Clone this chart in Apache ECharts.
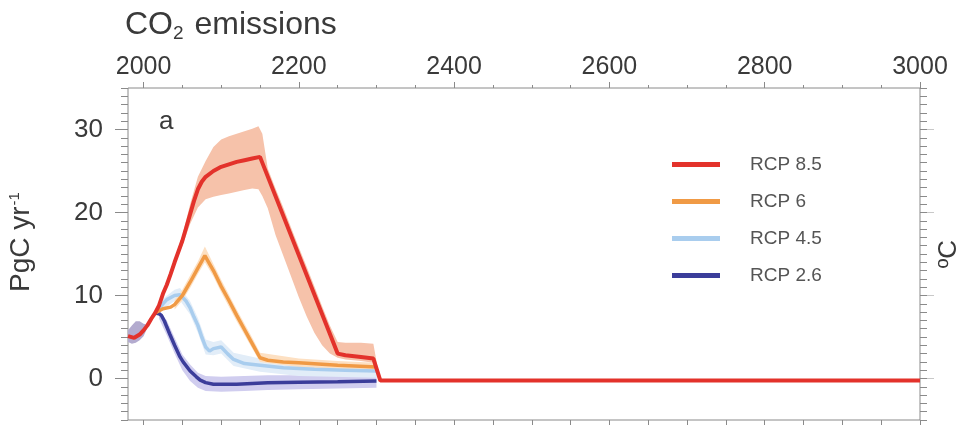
<!DOCTYPE html>
<html>
<head>
<meta charset="utf-8">
<script src="https://cdn.jsdelivr.net/npm/echarts@6/dist/echarts.min.js"></script>
<style>html,body{margin:0;padding:0;background:#fff}#c{width:961px;height:425px}</style>
</head>
<body>
<div id="c"></div>
<script>
// ---- Data ----
const xTickLabels = [2000, 2200, 2400, 2600, 2800, 3000];
const yTickLabels = [0, 10, 20, 30];
const seriesNames = ['RCP 8.5', 'RCP 6', 'RCP 4.5', 'RCP 2.6'];

// RCP 8.5 central line (PgC/yr)
const years85 = [1980, 1988, 1995, 2000, 2005, 2010, 2015, 2020, 2025, 2030, 2035, 2040, 2045, 2050, 2055, 2060, 2065, 2070, 2075, 2080, 2090, 2100, 2110, 2120, 2130, 2140, 2150, 2250, 2260, 2280, 2296, 2305, 3000];
const vals85  = [5.1, 4.9, 5.3, 5.8, 6.4, 7.2, 7.9, 8.8, 10.2, 11.3, 12.6, 14.0, 15.3, 16.6, 18.2, 19.8, 21.4, 22.8, 23.7, 24.3, 25.0, 25.5, 25.8, 26.1, 26.3, 26.5, 26.7, 3.0, 2.8, 2.6, 2.4, -0.25, -0.25];
// RCP 8.5 spread
const band85Years = [2040, 2050, 2060, 2070, 2080, 2090, 2100, 2110, 2120, 2130, 2140, 2148, 2153, 2160, 2170, 2180, 2190, 2200, 2210, 2220, 2230, 2240, 2250, 2260, 2280, 2296, 2303];
const band85Low   = [13.6, 16.0, 18.6, 20.6, 21.6, 21.9, 22.1, 22.3, 22.5, 22.7, 22.9, 22.8, 22.0, 20.5, 17.3, 14.8, 12.3, 9.8, 7.5, 5.5, 4.0, 3.0, 2.5, 2.3, 2.1, 1.9, -0.3];
const band85High  = [14.4, 17.2, 21.0, 24.3, 26.2, 27.9, 28.8, 29.2, 29.5, 29.8, 30.1, 30.4, 29.5, 25.3, 22.9, 20.6, 18.2, 15.8, 13.5, 11.1, 8.7, 6.4, 4.4, 4.3, 4.3, 4.2, 0.5];

// RCP 6
const years6 = [2015, 2025, 2035, 2040, 2050, 2060, 2070, 2079, 2090, 2100, 2110, 2120, 2130, 2140, 2150, 2160, 2180, 2200, 2250, 2300];
const vals6  = [7.9, 8.4, 8.6, 8.9, 10.0, 11.6, 13.3, 14.8, 13.0, 11.1, 9.4, 7.6, 5.9, 4.2, 2.5, 2.2, 2.0, 1.9, 1.6, 1.4];
const band6Years = [2040, 2050, 2060, 2070, 2079, 2090, 2100, 2120, 2140, 2150, 2200, 2250, 2300];
const band6Low   = [8.3, 9.4, 10.9, 12.6, 14.0, 12.3, 10.4, 6.9, 3.6, 2.0, 1.4, 1.1, 0.9];
const band6High  = [9.5, 10.7, 12.4, 14.1, 15.9, 13.8, 11.9, 8.3, 4.9, 3.1, 2.4, 2.1, 1.9];

// RCP 4.5
const years45 = [2015, 2025, 2030, 2040, 2047, 2055, 2060, 2065, 2070, 2075, 2080, 2085, 2090, 2100, 2108, 2116, 2130, 2150, 2180, 2220, 2260, 2300];
const vals45  = [7.9, 9.0, 9.5, 10.0, 10.1, 9.3, 8.5, 7.4, 6.4, 5.0, 3.8, 3.3, 3.6, 3.8, 3.0, 2.3, 1.8, 1.6, 1.3, 1.1, 1.0, 0.9];
const band45Years = [2025, 2040, 2047, 2060, 2070, 2080, 2090, 2100, 2116, 2150, 2200, 2300];
const band45Low   = [8.4, 9.3, 9.4, 7.7, 5.5, 2.9, 2.8, 3.0, 1.5, 0.8, 0.3, 0.1];
const band45High  = [9.6, 10.7, 10.9, 9.3, 7.3, 4.7, 4.4, 4.6, 3.1, 2.4, 2.1, 1.8];

// RCP 2.6
const years26 = [2015, 2020, 2023, 2027, 2030, 2034, 2040, 2047, 2051, 2060, 2068, 2073, 2080, 2090, 2120, 2160, 2200, 2250, 2300];
const vals26  = [7.9, 7.8, 7.6, 6.9, 6.2, 5.3, 4.0, 2.6, 2.0, 0.9, 0.2, -0.2, -0.5, -0.7, -0.7, -0.5, -0.45, -0.4, -0.3];
const band26HistYears = [1980, 1985, 1990, 1995, 2000, 2004];
const band26HistLow   = [4.4, 4.2, 4.3, 4.6, 5.1, 5.9];
const band26HistHigh  = [5.8, 6.4, 6.9, 6.9, 6.6, 6.5];
const band26Years = [2020, 2030, 2040, 2050, 2060, 2070, 2080, 2100, 2130, 2160, 2200, 2250, 2300];
const band26Low   = [7.2, 5.2, 3.0, 1.0, -0.3, -1.1, -1.5, -1.6, -1.5, -1.4, -1.3, -1.2, -1.1];
const band26High  = [8.2, 7.0, 4.9, 2.9, 1.7, 0.7, 0.3, 0.2, 0.3, 0.4, 0.4, 0.5, 0.5];

// ---- Styling ----
const colors = {'RCP 8.5': '#e3322b', 'RCP 6': '#f09a45', 'RCP 4.5': '#a9cdee', 'RCP 2.6': '#3b3d9a'};
const bandColors = {'RCP 8.5': '#f6c2aa', 'RCP 6': '#fde0c2', 'RCP 4.5': '#e2edf8', 'RCP 2.6': '#d0cdef', 'hist': '#b3abcf'};
const axisGray = '#8a8a8a';
const textGray = '#3a3a3a';
const FONT = 'Liberation Sans, Arial, sans-serif';

function zip(xs, ys) { return xs.map((x, i) => [x, ys[i]]); }

// spread band drawn as polygon through the axes' own scales
function bandSeries(key, yrs, lo, hi) {
  const rows = yrs.map((x, i) => [x, lo[i], hi[i]]);
  return {
    name: key + ' spread', type: 'custom', z: 1, silent: true, clip: true,
    encode: { x: 0, y: [1, 2] },
    data: rows,
    renderItem: function (params, api) {
      if (params.dataIndex !== 0) return null;
      const pts = [];
      for (let i = 0; i < rows.length; i++) pts.push(api.coord([rows[i][0], rows[i][2]]));
      for (let i = rows.length - 1; i >= 0; i--) pts.push(api.coord([rows[i][0], rows[i][1]]));
      return { type: 'polygon', shape: { points: pts }, style: { fill: bandColors[key], stroke: null } };
    }
  };
}
function lineSeries(key, yrs, vals, z, w) {
  return { name: key, type: 'line', data: zip(yrs, vals), symbol: 'none', color: colors[key],
    itemStyle: { color: colors[key] }, lineStyle: { color: colors[key], width: w }, z: z, animation: false };
}

const minorX = [];
for (let y = 2000; y <= 3000; y += 50) minorX.push(y);
const minorY = [];
for (let v = -5; v <= 35; v += 1) minorY.push(v);

const XMIN = 1980, XMAX = 3000, YMIN = -5, YMAX = 35;
const noZero = { show: false, onZero: false };

const chart = echarts.init(document.getElementById('c'), null, { renderer: 'canvas' });
chart.setOption({
  animation: false,
  backgroundColor: '#fff',
  textStyle: { fontFamily: FONT },
  title: [
    { text: 'CO{sub|2} emissions', left: 120, top: 3,
      textStyle: { fontSize: 32, fontWeight: 'normal', color: textGray, fontFamily: FONT,
        rich: { sub: { fontSize: 19, color: textGray, fontFamily: FONT, padding: [16, 2, 0, 0] } } } },
    { text: 'a', left: 154, top: 104, textStyle: { fontSize: 26, fontWeight: 'normal', color: textGray, fontFamily: FONT } }
  ],
  grid: { left: 128, right: 41, top: 88, bottom: 5, show: true, borderColor: axisGray, borderWidth: 1,
          backgroundColor: 'transparent', containLabel: false, outerBoundsMode: 'none' },
  legend: {
    data: seriesNames, orient: 'vertical', left: 672, top: 155, padding: 0, itemGap: 18,
    itemWidth: 48, itemHeight: 5, icon: 'rect',
    textStyle: { fontSize: 19, color: '#555', fontFamily: FONT, padding: [0, 0, 0, 25] },
    selectedMode: false
  },
  xAxis: [
    { type: 'value', position: 'top', min: XMIN, max: XMAX, splitLine: { show: false }, axisLine: noZero,
      axisTick: { show: true, inside: false, length: 6, customValues: xTickLabels, lineStyle: { color: axisGray } },
      axisLabel: { show: true, customValues: xTickLabels, formatter: v => String(v), margin: 8, fontSize: 25, color: textGray, fontFamily: FONT } },
    { type: 'value', position: 'top', min: XMIN, max: XMAX, splitLine: { show: false }, axisLine: noZero,
      axisTick: { show: true, inside: false, length: 3, customValues: minorX, lineStyle: { color: axisGray } },
      axisLabel: { show: false } },
    { type: 'value', position: 'bottom', min: XMIN, max: XMAX, splitLine: { show: false }, axisLine: noZero,
      axisTick: { show: true, inside: false, length: 5, customValues: minorX, lineStyle: { color: axisGray } },
      axisLabel: { show: false } }
  ],
  yAxis: [
    { type: 'value', position: 'left', min: YMIN, max: YMAX, splitLine: { show: false }, axisLine: noZero,
      axisTick: { show: true, inside: false, length: 13, customValues: yTickLabels, lineStyle: { color: axisGray } },
      axisLabel: { show: true, customValues: yTickLabels, margin: 25, fontSize: 26, color: textGray, fontFamily: FONT },
      name: 'PgC yr{sup|-1}', nameLocation: 'middle', nameRotate: 90, nameGap: 92,
      nameTextStyle: { fontSize: 28, color: textGray, fontFamily: FONT, padding: [0, 0, 0, 24],
        rich: { sup: { fontSize: 15, color: textGray, fontFamily: FONT, padding: [0, 0, 14, 1] } } } },
    { type: 'value', position: 'left', min: YMIN, max: YMAX, splitLine: { show: false }, axisLine: noZero,
      axisTick: { show: true, inside: false, length: 7, customValues: minorY, lineStyle: { color: axisGray } },
      axisLabel: { show: false } },
    { type: 'value', position: 'right', min: YMIN, max: YMAX, splitLine: { show: false }, axisLine: noZero,
      axisTick: { show: true, inside: false, length: 14, customValues: yTickLabels, lineStyle: { color: '#c8c8c8' } },
      axisLabel: { show: false },
      name: 'ºC', nameLocation: 'middle', nameRotate: 90, nameGap: 16,
      nameTextStyle: { fontSize: 26, color: textGray, fontFamily: FONT } },
    { type: 'value', position: 'right', min: YMIN, max: YMAX, splitLine: { show: false }, axisLine: noZero,
      axisTick: { show: true, inside: false, length: 7, customValues: minorY, lineStyle: { color: axisGray } },
      axisLabel: { show: false } }
  ],
  series: [
    bandSeries('hist', band26HistYears, band26HistLow, band26HistHigh),
    bandSeries('RCP 2.6', band26Years, band26Low, band26High),
    bandSeries('RCP 4.5', band45Years, band45Low, band45High),
    bandSeries('RCP 6', band6Years, band6Low, band6High),
    bandSeries('RCP 8.5', band85Years, band85Low, band85High),
    lineSeries('RCP 2.6', years26, vals26, 3, 3.5),
    lineSeries('RCP 4.5', years45, vals45, 4, 3.5),
    lineSeries('RCP 6', years6, vals6, 5, 3.5),
    lineSeries('RCP 8.5', years85, vals85, 6, 4)
  ]
});
</script>
</body>
</html>
